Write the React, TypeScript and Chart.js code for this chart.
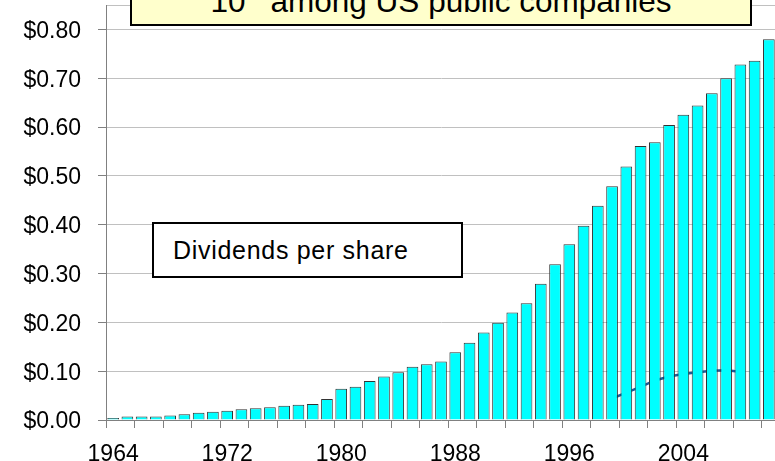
import React, { useEffect, useRef } from 'react';
import { Chart, registerables } from 'chart.js';

Chart.register(...registerables);

const YEARS = [
  1964, 1965, 1966, 1967, 1968, 1969, 1970, 1971, 1972, 1973,
  1974, 1975, 1976, 1977, 1978, 1979, 1980, 1981, 1982, 1983,
  1984, 1985, 1986, 1987, 1988, 1989, 1990, 1991, 1992, 1993,
  1994, 1995, 1996, 1997, 1998, 1999, 2000, 2001, 2002, 2003,
  2004, 2005, 2006, 2007, 2008, 2009, 2010,
];

const DIVIDENDS = [
  0.004, 0.007, 0.007, 0.007, 0.009, 0.012, 0.015, 0.017, 0.019, 0.022,
  0.024, 0.026, 0.029, 0.031, 0.033, 0.043, 0.064, 0.068, 0.08, 0.089,
  0.098, 0.109, 0.114, 0.12, 0.139, 0.158, 0.179, 0.199, 0.22, 0.239,
  0.279, 0.319, 0.36, 0.398, 0.439, 0.479, 0.519, 0.561, 0.569, 0.604,
  0.625, 0.644, 0.669, 0.7, 0.728, 0.736, 0.78,
];

// dark line hidden behind the bars (only visible in the gaps)
const HIDDEN_LINE = [
  null, null, null, null, null, null, null, null, null, null,
  null, null, null, null, null, null, null, null, null, null,
  null, null, null, null, null, null, null, null, null, null,
  null, null, null, null, null, 0.044, 0.056, 0.068, 0.081, 0.089,
  0.094, 0.098, 0.101, 0.102, 0.099, null, null,
];

const Y_TICKS = [0, 0.1, 0.2, 0.3, 0.4, 0.5, 0.6, 0.7, 0.8];
const Y_MAX = 0.85;
const X_LABEL_EVERY = 8;
const X_TICK_EVERY = 2;

const TITLE_MAIN = '10';
const TITLE_SUP = 'th';
const TITLE_REST = ' among US public companies';
const BOX_TEXT = 'Dividends per share';

const FONT = "'Liberation Sans', Arial, Helvetica, sans-serif";

export default function App() {
  const ref = useRef<HTMLCanvasElement>(null);

  useEffect(() => {
    Chart.defaults.font.family = FONT;
    const chart = new Chart(ref.current as HTMLCanvasElement, {
      type: 'bar',
      data: {
        labels: YEARS.map(String),
        datasets: [
          {
            type: 'bar',
            label: 'Dividends per share',
            data: DIVIDENDS,
            backgroundColor: '#00FFFF',
            borderColor: '#333333',
            borderWidth: 1,
            barPercentage: 0.82,
            categoryPercentage: 1,
            order: 1,
          } as any,
          {
            type: 'line',
            label: 'line',
            data: HIDDEN_LINE,
            borderColor: '#1f5c99',
            borderWidth: 2.5,
            pointRadius: 0,
            fill: false,
            spanGaps: false,
            order: 2,
          } as any,
        ],
      },
      options: {
        responsive: false,
        animation: false,
        layout: { padding: { top: 5, left: 0, right: 0, bottom: 0 } },
        plugins: { legend: { display: false }, tooltip: { enabled: false } },
        scales: {
          x: {
            offset: true,
            grid: {
              offset: true,
              drawOnChartArea: false,
              drawTicks: true,
              tickLength: 8,
              color: (ctx: any) => (ctx.index % X_TICK_EVERY === 0 ? '#808080' : 'rgba(0,0,0,0)'),
            },
            border: { color: '#808080' },
            ticks: {
              autoSkip: false,
              maxRotation: 0,
              minRotation: 0,
              padding: 13,
              color: '#000',
              font: { size: 23 },
              callback: (_v: any, i: number) => (i % X_LABEL_EVERY === 0 ? String(YEARS[i]) : ''),
            },
            afterFit: (s: any) => {
              s.height = 50;
              s.paddingLeft = 0;
              s.paddingRight = 0;
            },
          },
          y: {
            min: 0,
            max: Y_MAX,
            afterBuildTicks: (s: any) => {
              s.ticks = [...Y_TICKS, Y_MAX].map((v) => ({ value: v }));
            },
            grid: {
              color: '#c0c0c0',
              tickLength: 8,
              tickColor: (ctx: any) =>
                ctx.tick && ctx.tick.value === Y_MAX ? 'rgba(0,0,0,0)' : '#808080',
            },
            border: { color: '#808080' },
            ticks: {
              padding: 17,
              labelOffset: 2,
              color: '#000',
              font: { size: 23 },
              callback: (v: any) => (v === Y_MAX ? '' : '$' + Number(v).toFixed(2)),
            },
            afterFit: (s: any) => {
              s.width = 106;
              s.paddingTop = 0;
              s.paddingBottom = 0;
            },
          },
        },
      } as any,
    });
    return () => chart.destroy();
  }, []);

  return (
    <div
      style={{
        position: 'absolute',
        left: 0,
        top: 0,
        width: 775,
        height: 461,
        overflow: 'hidden',
        background: '#fff',
        fontFamily: FONT,
      }}
    >
      <canvas ref={ref} width={776} height={470} style={{ display: 'block', width: 776, height: 470 }} />
      <div
        style={{
          position: 'absolute',
          left: 130,
          top: -40,
          width: 622,
          height: 66,
          boxSizing: 'border-box',
          border: '2px solid #000',
          background: '#FFFFCC',
        }}
      />
      <div
        style={{
          position: 'absolute',
          left: 130,
          top: -14,
          width: 622,
          textAlign: 'center',
          fontSize: 31.5,
          lineHeight: '31.5px',
          whiteSpace: 'nowrap',
          color: '#000',
        }}
      >
        {TITLE_MAIN}
        <span style={{ fontSize: '0.62em', position: 'relative', top: '-0.6em' }}>{TITLE_SUP}</span>
        {TITLE_REST}
      </div>
      <div
        style={{
          position: 'absolute',
          left: 152,
          top: 222,
          width: 311,
          height: 56,
          boxSizing: 'border-box',
          border: '2px solid #000',
          background: '#fff',
          fontSize: 25,
          lineHeight: '52px',
          paddingLeft: 19,
          letterSpacing: 0.7,
          whiteSpace: 'nowrap',
          color: '#000',
        }}
      >
        {BOX_TEXT}
      </div>
    </div>
  );
}
